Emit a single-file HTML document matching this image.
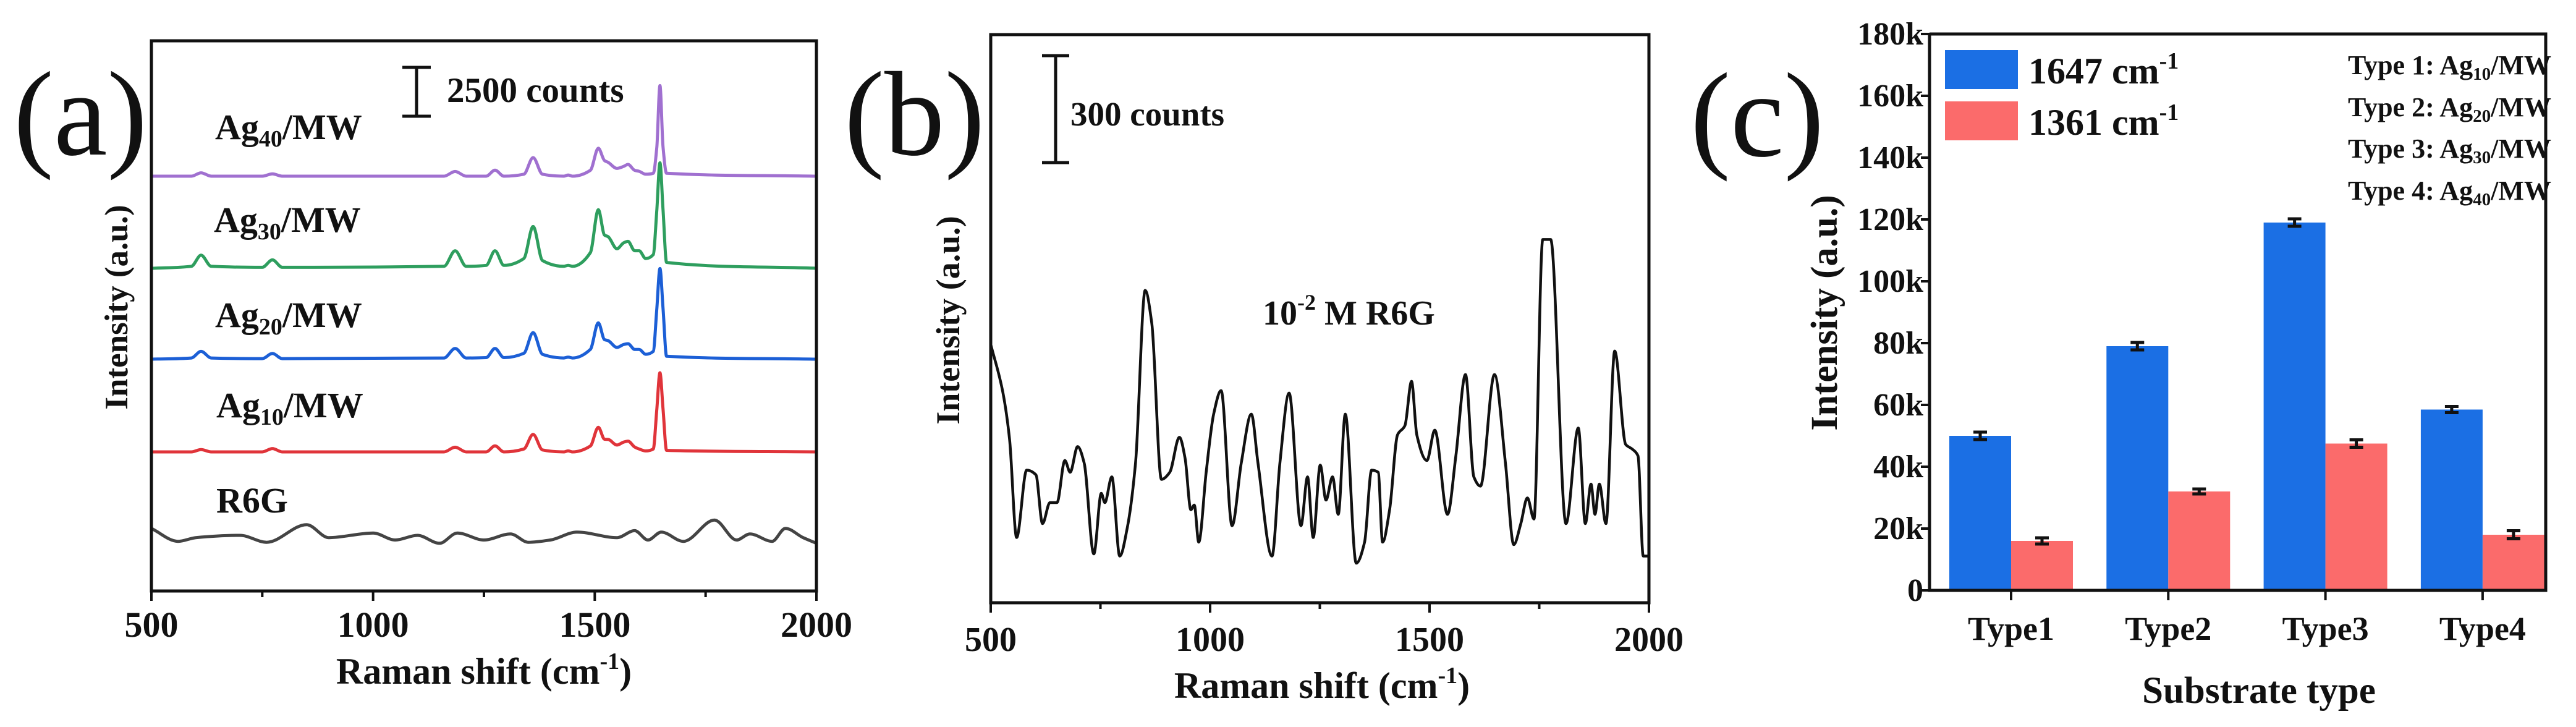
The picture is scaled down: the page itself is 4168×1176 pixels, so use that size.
<!DOCTYPE html>
<html><head><meta charset="utf-8"><style>
html,body{margin:0;padding:0;background:#fff;}
svg{display:block;}
text{font-family:"Liberation Serif",serif;font-weight:bold;fill:#111;}
</style></head><body>
<svg id="fig" width="4168" height="1176" viewBox="0 0 4168 1176" xmlns="http://www.w3.org/2000/svg">
<rect width="4168" height="1176" fill="#fff"/>
<g id="pa"></g>
<g id="pb"></g>
<g id="pc"></g>
</svg>
<script>
// ---------- Panel (a) data ----------
const aShift=[500,590,612,635,750,773,795,1160,1185,1210,1255,1275,1295,1340,1361,1382,1430,1440,1450,1490,1508,1522,1530,1550,1565,1575,1590,1600,1615,1632,1640,1647,1654,1662,2000];
const aAg40=[0,0,170,0,0,120,0,0,240,0,0,310,0,100,950,100,0,60,0,300,1430,800,710,400,500,600,300,250,100,150,1500,4640,1500,150,0];
const aAg30=[0,100,670,100,50,430,50,100,900,100,150,900,150,500,2140,400,100,150,100,800,3000,1700,1620,1000,1300,1380,900,900,500,700,3000,5400,3000,300,0];
const aAg20=[0,60,400,60,30,290,30,60,550,60,80,550,80,300,1360,250,60,100,60,500,1860,1000,950,600,750,790,500,500,250,400,2600,4640,2600,150,0];
const aAg10=[0,0,120,0,0,170,0,0,240,0,0,310,0,150,900,100,0,50,0,300,1260,650,640,350,500,550,250,150,50,150,2200,4050,2200,80,0];
const aR6GShift=[500,560,600,700,760,850,900,1000,1050,1100,1150,1190,1250,1310,1350,1400,1460,1550,1590,1620,1650,1700,1770,1820,1850,1900,1930,1970,2000];
const aR6G=[833,167,357,476,119,1023,357,595,238,476,71,595,238,547,119,238,643,357,714,238,643,167,1261,238,547,167,833,357,71];
const aTicks=[500,1000,1500,2000];
// ---------- Panel (b) data ----------
const bShift=[500,528,543,559,582,603,618,635,651,669,681,698,713,735,752,760,776,794,811,830,852,867,889,908,930,943,956,964,974,991,1008,1025,1050,1071,1094,1109,1141,1159,1180,1207,1222,1235,1251,1264,1279,1292,1308,1333,1352,1368,1383,1393,1409,1427,1444,1459,1471,1494,1512,1541,1560,1582,1601,1616,1648,1673,1692,1708,1723,1738,1758,1776,1811,1839,1855,1868,1877,1887,1902,1922,1947,1962,1975,1987,1997];
const bCounts=[725,588,458,183,372,359,222,281,281,399,366,438,392,137,307,281,353,131,209,392,876,784,346,366,464,405,261,274,170,366,529,595,216,392,529,392,131,392,588,216,353,183,386,288,353,248,529,111,170,372,366,170,261,471,497,621,471,399,484,248,412,640,353,327,640,392,163,222,294,235,1019,1019,222,490,222,333,248,333,222,706,444,431,412,131,131];
const bTicks=[500,1000,1500,2000];
// ---------- Panel (c) data ----------
const cCategories=["Type1","Type2","Type3","Type4"];
const c1647=[50000,79000,119000,58500];
const c1361=[16000,32000,47500,18000];
const c1647Err=[1200,1200,1200,1000];
const c1361Err=[1000,800,1200,1300];
const cTicks=[0,20000,40000,60000,80000,100000,120000,140000,160000,180000];
const cTickLabels=["0","20k","40k","60k","80k","100k","120k","140k","160k","180k"];

const NS="http://www.w3.org/2000/svg";
function mk(tag,attrs,parent,txt){const e=document.createElementNS(NS,tag);for(const k in attrs)e.setAttribute(k,attrs[k]);if(txt!==undefined)e.textContent=txt;parent.appendChild(e);return e;}
// monotone cubic (Fritsch-Carlson) through points sorted by x
function smoothPath(pts){
  const n=pts.length,dx=[],s=[],m=[];
  for(let i=0;i<n-1;i++){dx[i]=pts[i+1][0]-pts[i][0];s[i]=(pts[i+1][1]-pts[i][1])/dx[i];}
  m[0]=s[0];m[n-1]=s[n-2];
  for(let i=1;i<n-1;i++){
    if(s[i-1]*s[i]<=0)m[i]=0;
    else{const w1=2*dx[i]+dx[i-1],w2=dx[i]+2*dx[i-1];m[i]=(w1+w2)/(w1/s[i-1]+w2/s[i]);}
  }
  let d='M'+pts[0][0].toFixed(1)+','+pts[0][1].toFixed(1);
  for(let i=0;i<n-1;i++){
    const h=dx[i]/3;
    d+=`C${(pts[i][0]+h).toFixed(1)},${(pts[i][1]+m[i]*h).toFixed(1)} ${(pts[i+1][0]-h).toFixed(1)},${(pts[i+1][1]-m[i+1]*h).toFixed(1)} ${pts[i+1][0].toFixed(1)},${pts[i+1][1].toFixed(1)}`;
  }
  return d;
}

// ===== Panel a =====
(function(){
const g=document.getElementById('pa');
const L=245,R=1321,T=66,B=956;
const x=v=>L+(v-500)/1500*(R-L);
const k=79/2500;
const series=[[aAg40,285,'#a070d0','spectrum-ag40'],[aAg30,434,'#2e9e5e','spectrum-ag30'],[aAg20,581,'#1c5fd6','spectrum-ag20'],[aAg10,731,'#e0343a','spectrum-ag10']];
series.forEach(s=>{
  const d=smoothPath(aShift.map((w,i)=>[x(w),s[1]-s[0][i]*k]));
  const p=mk('path',{d:d,fill:'none',stroke:s[2],'stroke-width':5,'stroke-linejoin':'round'},g);
  
  
});
const dr=smoothPath(aR6GShift.map((w,i)=>[x(w),881-aR6G[i]*k]));
const pr=mk('path',{d:dr,fill:'none',stroke:'#444','stroke-width':5,'stroke-linejoin':'round'},g);


const fr=mk('rect',{x:L,y:T,width:R-L,height:B-T,fill:'none',stroke:'#111','stroke-width':5},g);


for(let v=500;v<=2000;v+=250){
  const major=aTicks.indexOf(v)>=0;
  const t=mk('line',{x1:x(v),x2:x(v),y1:B,y2:B+(major?16:10),stroke:'#111','stroke-width':4},g);
  
  
}
aTicks.forEach(v=>{
  const t=mk('text',{x:x(v),y:1030,'font-size':58,'text-anchor':'middle'},g,String(v));
  
  
});
})();

// ===== Panel b =====
(function(){
const g=document.getElementById('pb');
const L=1603,R=2668,T=56,B=975;
const x=v=>L+(v-500)/1500*(R-L);
const k=173/300;
const d=smoothPath(bShift.map((w,i)=>[x(w),B-bCounts[i]*k]));
const p=mk('path',{d:d,fill:'none',stroke:'#111','stroke-width':4.5,'stroke-linejoin':'round'},g);


const fr=mk('rect',{x:L,y:T,width:R-L,height:B-T,fill:'none',stroke:'#111','stroke-width':5},g);


for(let v=500;v<=2000;v+=250){
  const major=bTicks.indexOf(v)>=0;
  const t=mk('line',{x1:x(v),x2:x(v),y1:B,y2:B+(major?16:10),stroke:'#111','stroke-width':4},g);
  
  
}
bTicks.forEach(v=>{
  const t=mk('text',{x:x(v),y:1053,'font-size':56,'text-anchor':'middle'},g,String(v));
  
  
});
})();

// ===== Panel c =====
(function(){
const g=document.getElementById('pc');
const L=3122,R=4119,T=55,B=955;
const y=v=>B-v/180000*(B-T);
const cx=i=>3254+i*254.3;
const bw=100;
cCategories.forEach((c,i)=>{
  const b1=mk('rect',{x:cx(i)-bw,y:y(c1647[i]),width:bw,height:B-y(c1647[i]),fill:'#1b6fe4'},g);
  
  
  const b2=mk('rect',{x:cx(i),y:y(c1361[i]),width:bw,height:B-y(c1361[i]),fill:'#fb6b6b'},g);
  
  
  [[c1647,c1647Err,cx(i)-bw/2],[c1361,c1361Err,cx(i)+bw/2]].forEach(s=>{
    const v=s[0][i],e=s[1][i],xc=s[2];
    const eb=mk('path',{d:`M${xc-11},${y(v+e)}H${xc+11}M${xc},${y(v+e)}V${y(v-e)}M${xc-11},${y(v-e)}H${xc+11}`,stroke:'#111','stroke-width':5,fill:'none'},g);
    
    
  });
  const t=mk('line',{x1:cx(i),x2:cx(i),y1:B,y2:B+16,stroke:'#111','stroke-width':4},g);
  
  
  const tl=mk('text',{x:cx(i),y:1035,'font-size':54,'text-anchor':'middle'},g,c);
  
  
});
cTicks.forEach((v,i)=>{
  const t=mk('line',{x1:L-14,x2:L,y1:y(v),y2:y(v),stroke:'#111','stroke-width':4},g);
  
  
  const tl=mk('text',{x:L-10,y:y(v)+17,'font-size':52,'text-anchor':'end'},g,cTickLabels[i]);
  
  
});
const ax=mk('path',{d:`M${L},${T}V${B}H${R}V${T}H${L}`,fill:'none',stroke:'#111','stroke-width':5},g);


})();
</script>
<div style="position:absolute;left:0;top:0;width:4168px;height:1176px;pointer-events:none">
<svg width="4168" height="1176" viewBox="0 0 4168 1176" xmlns="http://www.w3.org/2000/svg">
<style>text{font-family:"Liberation Serif",serif;font-weight:bold;fill:#111;}</style>
<text x="22" y="250" font-size="195" style="font-weight:normal">(a)</text>
<text x="1366" y="250" font-size="195" style="font-weight:normal">(b)</text>
<text x="2735" y="252" font-size="195" style="font-weight:normal">(c)</text>
<path d="M651,109H697M674,109V188M651,188H697" stroke="#111" stroke-width="5" fill="none"/>
<text x="723" y="165" font-size="57">2500 counts</text>
<text x="348" y="225" font-size="58">Ag<tspan font-size="38" dy="12">40</tspan><tspan dy="-12">/MW</tspan></text>
<text x="346" y="375" font-size="58">Ag<tspan font-size="38" dy="12">30</tspan><tspan dy="-12">/MW</tspan></text>
<text x="348" y="529" font-size="58">Ag<tspan font-size="38" dy="12">20</tspan><tspan dy="-12">/MW</tspan></text>
<text x="350" y="675" font-size="58">Ag<tspan font-size="38" dy="12">10</tspan><tspan dy="-12">/MW</tspan></text>
<text x="350" y="829" font-size="58">R6G</text>
<text x="783" y="1106" font-size="60" text-anchor="middle">Raman shift (cm<tspan font-size="38" dy="-24">-1</tspan><tspan dy="24">)</tspan></text>
<text transform="translate(206,497) rotate(-90)" font-size="53" text-anchor="middle">Intensity (a.u.)</text>
<path d="M1686,90H1730M1708,90V263M1686,263H1730" stroke="#111" stroke-width="5" fill="none"/>
<text x="1732" y="203" font-size="55">300 counts</text>
<text x="2043" y="525" font-size="56">10<tspan font-size="36" dy="-24">-2</tspan><tspan dy="24"> M R6G</tspan></text>
<text x="2139" y="1129" font-size="60" text-anchor="middle">Raman shift (cm<tspan font-size="38" dy="-24">-1</tspan><tspan dy="24">)</tspan></text>
<text transform="translate(1552,518) rotate(-90)" font-size="54" text-anchor="middle">Intensity (a.u.)</text>
<rect x="3147" y="81" width="118" height="63" fill="#1b6fe4"/>
<rect x="3147" y="164" width="118" height="63" fill="#fb6b6b"/>
<text x="3282" y="135" font-size="60">1647 cm<tspan font-size="38" dy="-24">-1</tspan></text>
<text x="3282" y="218" font-size="60">1361 cm<tspan font-size="38" dy="-24">-1</tspan></text>
<text x="3799" y="120" font-size="44">Type 1: Ag<tspan font-size="29" dy="9">10</tspan><tspan dy="-9">/MW</tspan></text>
<text x="3799" y="188" font-size="44">Type 2: Ag<tspan font-size="29" dy="9">20</tspan><tspan dy="-9">/MW</tspan></text>
<text x="3799" y="255" font-size="44">Type 3: Ag<tspan font-size="29" dy="9">30</tspan><tspan dy="-9">/MW</tspan></text>
<text x="3799" y="323" font-size="44">Type 4: Ag<tspan font-size="29" dy="9">40</tspan><tspan dy="-9">/MW</tspan></text>
<text x="3655" y="1137" font-size="61" text-anchor="middle">Substrate type</text>
<text transform="translate(2972,506) rotate(-90)" font-size="61" text-anchor="middle">Intensity (a.u.)</text>
</svg>
</div>
</body></html>
